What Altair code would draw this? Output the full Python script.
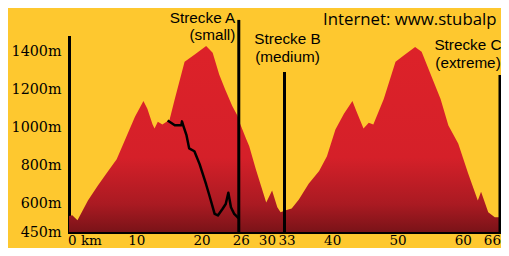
import altair as alt
import pandas as pd

# Elevation profile (km, metres)
profile_km = [0, 0.5, 1.3, 2.9, 4.4, 5.7, 7.3, 8.8, 10.1, 11.4, 12.0, 12.8, 13.1, 13.6, 14.3, 15.4,
              16.2, 17.7, 19.2, 21.0, 22.0, 23.0, 23.9, 25.0, 25.8, 26.2, 27.1, 27.6, 28.6, 29.4,
              30.2, 31.1, 31.9, 32.4, 33.2, 34.1, 35.2, 36.7, 38.3, 39.5, 40.8, 42.1, 43.4, 44.0,
              45.1, 45.9, 46.6, 48.2, 50.0, 51.2, 53.0, 54.0, 55.5, 56.9, 58.1, 59.6, 61.1, 62.6,
              63.1, 64.2, 65.2, 66.0]
profile_m = [534, 538, 512, 616, 694, 756, 833, 953, 1056, 1139, 1098, 1015, 994, 1030, 1015, 1041,
             1150, 1346, 1383, 1429, 1393, 1279, 1201, 1113, 1061, 1020, 942, 901, 782, 694,
             605, 668, 580, 554, 564, 574, 621, 704, 771, 849, 989, 1072, 1139, 1087,
             994, 1025, 1015, 1150, 1346, 1377, 1424, 1398, 1269, 1150, 1010, 916, 761, 616,
             662, 554, 528, 528]

# Descent of Strecke A (black line)
route_km = [15.1, 16.2, 17.2, 17.3, 17.5, 18.0, 18.4, 19.2, 20.0, 21.0, 21.5, 22.3, 22.8, 23.5,
            24.0, 24.4, 24.8, 25.3, 25.8, 26.0]
route_m = [1037, 1012, 1012, 1032, 1010, 958, 890, 875, 807, 700, 642, 545, 537, 571,
           597, 657, 580, 545, 528, 523]

# Course end markers
marker_km = [26, 33, 66]
marker_top = [1566, 1292, 1276]

x_ticks = [0, 10, 20, 26, 30, 33, 40, 50, 60, 66]
x_labels = ["0 km", "10", "20", "26", "30", "33", "40", "50", "60", "66"]
y_ticks = [450, 600, 800, 1000, 1200, 1400]

ann_km = [26, 33, 66]
ann_line1 = ["Strecke A", "Strecke B", "Strecke C"]
ann_line2 = ["(small)", "(medium)", "(extreme)"]

YELLOW = "#fec82f"
SANS = "Liberation Sans"
SERIF = "DejaVu Serif"

prof = pd.DataFrame({"km": profile_km, "m": profile_m})
route = pd.DataFrame({"km": route_km, "m": route_m})
marks = pd.DataFrame({"km": marker_km, "top": marker_top})
ticks = pd.DataFrame({"km": x_ticks, "label": x_labels})

xscale = alt.Scale(domain=[0, 66], nice=False, zero=False)
yscale = alt.Scale(domain=[450, 1476], nice=False, zero=False)

xaxis = alt.Axis(title=None, labels=False, ticks=False, grid=False,
                 domainColor="black", domainWidth=3, domainCap="square")
yaxis = alt.Axis(title=None, values=y_ticks, labelExpr="datum.value + 'm'", ticks=False, grid=False,
                 domainColor="black", domainWidth=3, domainCap="square",
                 labelFont=SERIF, labelFontSize=14.3, labelColor="black", labelPadding=8,
                 labelOverlap=False, labelFlush=False)

X = lambda f="km": alt.X(f"{f}:Q", scale=xscale, axis=xaxis)
Y = lambda f="m": alt.Y(f"{f}:Q", scale=yscale, axis=yaxis)

grad = alt.Gradient(
    gradient="linear",
    stops=[
        alt.GradientStop(offset=0, color="#dd2229"),
        alt.GradientStop(offset=0.6, color="#d52029"),
        alt.GradientStop(offset=0.85, color="#aa1a22"),
        alt.GradientStop(offset=1, color="#7a1318"),
    ],
    x1=0, x2=0, y1=0, y2=1,
)

area = alt.Chart(prof).mark_area(color=grad, interpolate="linear").encode(
    x=X(), y=Y(), y2=alt.datum(450),
)

route_line = alt.Chart(route).mark_line(color="black", strokeWidth=2.5, strokeJoin="round").encode(
    x=X(), y=Y(),
)

rules = alt.Chart(marks).mark_rule(color="black", strokeWidth=3).encode(
    x=X(), y=Y("top"), y2=alt.datum(450),
)

lbl_style = dict(font=SERIF, fontSize=13.5, color="black", baseline="alphabetic")
LBL_Y = 207.5

first_lbl = alt.Chart(ticks.iloc[:1]).mark_text(align="left", dx=-1, **lbl_style).encode(
    x=X(), y=alt.value(LBL_Y), text="label:N")
mid_lbl = alt.Chart(ticks.iloc[1:-1]).mark_text(align="center", dx=2.5, **lbl_style).encode(
    x=X(), y=alt.value(LBL_Y), text="label:N")
last_lbl = alt.Chart(ticks.iloc[-1:]).mark_text(align="right", dx=1, **lbl_style).encode(
    x=X(), y=alt.value(LBL_Y), text="label:N")


def ann(i, align, dx, y1, y2):
    df = pd.DataFrame({"km": [ann_km[i]], "a": [ann_line1[i]], "b": [ann_line2[i]]})
    base = alt.Chart(df)
    style = dict(font=SANS, fontSize=15.3, color="black", baseline="alphabetic", align=align, dx=dx)
    return [
        base.mark_text(**style).encode(x=X(), y=alt.value(y1), text="a:N"),
        base.mark_text(**style).encode(x=X(), y=alt.value(y2), text="b:N"),
    ]


anns = ann(0, "right", -3.5, -14.5, 2.5) + ann(1, "center", 3, 7, 25) + ann(2, "center", -32, 13, 30.5)

internet = alt.Chart(pd.DataFrame({"t": ["Internet: www.stubalp"]})).mark_text(
    font="Open Sans", fontSize=16.8, color="black", align="left", baseline="alphabetic"
).encode(x=alt.value(254), y=alt.value(-12), text="t:N")

chart = alt.layer(area, route_line, rules, first_lbl, mid_lbl, last_lbl, *anns, internet).properties(
    width=431, height=195,
    autosize=alt.AutoSizeParams(type="none"),
    padding={"left": 61, "top": 29, "right": 1, "bottom": 16},
    background=YELLOW,
).configure_view(stroke=None)

chart.save("out.html", embed_options={"renderer": "svg", "actions": False})
